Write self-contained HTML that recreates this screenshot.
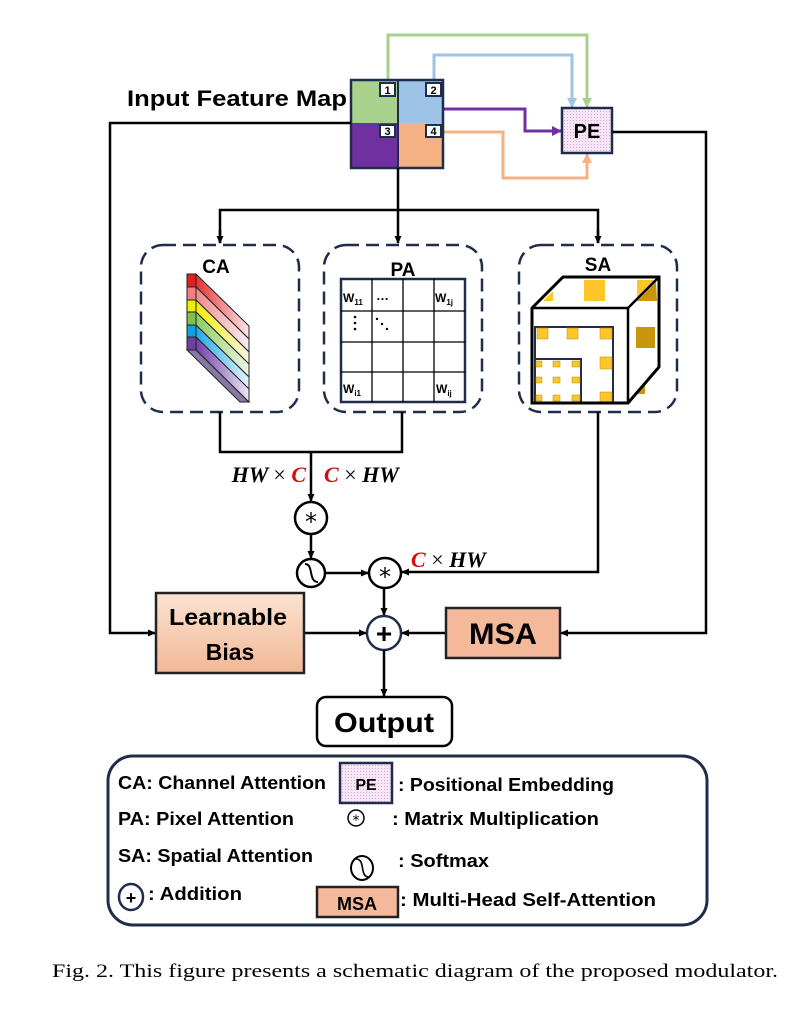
<!DOCTYPE html>
<html><head><meta charset="utf-8"><style>
html,body{margin:0;padding:0;background:#fff;}
svg{display:block;}
.b{font-family:"Liberation Sans",sans-serif;font-weight:bold;}
.m{font-family:"Liberation Serif",serif;font-style:italic;font-weight:bold;}
</style></head><body>
<svg width="793" height="1021" viewBox="0 0 793 1021" xmlns="http://www.w3.org/2000/svg">
<defs>
<marker id="ak" markerWidth="8" markerHeight="8" refX="7" refY="4" orient="auto" markerUnits="userSpaceOnUse"><path d="M0,0.5 L8,4 L0,7.5 Z" fill="#000"/></marker>
<marker id="ag" markerWidth="10" markerHeight="10" refX="9" refY="5" orient="auto" markerUnits="userSpaceOnUse"><path d="M0,0 L10,5 L0,10 Z" fill="#a9d18e"/></marker>
<marker id="ab" markerWidth="10" markerHeight="10" refX="9" refY="5" orient="auto" markerUnits="userSpaceOnUse"><path d="M0,0 L10,5 L0,10 Z" fill="#9dc3e6"/></marker>
<marker id="ap" markerWidth="10" markerHeight="10" refX="9" refY="5" orient="auto" markerUnits="userSpaceOnUse"><path d="M0,0 L10,5 L0,10 Z" fill="#7030a0"/></marker>
<marker id="ao" markerWidth="10" markerHeight="10" refX="9" refY="5" orient="auto" markerUnits="userSpaceOnUse"><path d="M0,0 L10,5 L0,10 Z" fill="#f4b183"/></marker>
<pattern id="dots" width="3" height="3" patternUnits="userSpaceOnUse"><rect width="3" height="3" fill="#f6e6f6"/><rect width="1" height="1" fill="#d9a6d9"/></pattern>
<linearGradient id="peach" x1="0" y1="0" x2="0" y2="1"><stop offset="0" stop-color="#fbe3d3"/><stop offset="1" stop-color="#f2b896"/></linearGradient>
<linearGradient id="fr" x1="0" y1="0" x2="1" y2="0"><stop offset="0" stop-color="#e83030"/><stop offset="1" stop-color="#fbe8ee"/></linearGradient>
<linearGradient id="fp" x1="0" y1="0" x2="1" y2="0"><stop offset="0" stop-color="#f08a8a"/><stop offset="1" stop-color="#fbeef2"/></linearGradient>
<linearGradient id="fy" x1="0" y1="0" x2="1" y2="0"><stop offset="0" stop-color="#f0f000"/><stop offset="1" stop-color="#f8f6e8"/></linearGradient>
<linearGradient id="fg" x1="0" y1="0" x2="1" y2="0"><stop offset="0" stop-color="#8ccc5a"/><stop offset="1" stop-color="#eef6ea"/></linearGradient>
<linearGradient id="fc" x1="0" y1="0" x2="1" y2="0"><stop offset="0" stop-color="#20a8e8"/><stop offset="1" stop-color="#e8f2fb"/></linearGradient>
<linearGradient id="fv" x1="0" y1="0" x2="1" y2="0"><stop offset="0" stop-color="#7040a8"/><stop offset="1" stop-color="#ece6f4"/></linearGradient>
</defs>

<!-- colored connectors -->
<polyline points="388,84 388,35 587,35 587,107" fill="none" stroke="#a9d18e" stroke-width="3" marker-end="url(#ag)"/>
<polyline points="434,84 434,55 572,55 572,107" fill="none" stroke="#9dc3e6" stroke-width="3" marker-end="url(#ab)"/>
<polyline points="388,126 388,109 525,109 525,131 561,131" fill="none" stroke="#7030a0" stroke-width="3" marker-end="url(#ap)"/>
<polyline points="443,132 503,132 503,178 587,178 587,154" fill="none" stroke="#f4b183" stroke-width="3" marker-end="url(#ao)"/>

<!-- feature map -->
<rect x="351" y="80" width="47" height="43" fill="#a9d18e"/>
<rect x="398" y="80" width="45" height="43" fill="#9dc3e6"/>
<rect x="351" y="123" width="47" height="45" fill="#7030a0"/>
<rect x="398" y="123" width="45" height="45" fill="#f4b183"/>
<rect x="351" y="80" width="92" height="88" fill="none" stroke="#1f2d4a" stroke-width="2.5"/>
<line x1="398" y1="80" x2="398" y2="168" stroke="#1f2d4a" stroke-width="2"/>
<rect x="380" y="83" width="15" height="13" fill="#fff" stroke="#1f2d4a" stroke-width="2"/>
<rect x="426" y="83" width="15" height="13" fill="#fff" stroke="#1f2d4a" stroke-width="2"/>
<rect x="380" y="125" width="15" height="12" fill="#fff" stroke="#1f2d4a" stroke-width="2"/>
<rect x="426" y="125" width="15" height="12" fill="#fff" stroke="#1f2d4a" stroke-width="2"/>
<text x="387.5" y="94" class="b" font-size="11" text-anchor="middle">1</text>
<text x="433.5" y="94" class="b" font-size="11" text-anchor="middle">2</text>
<text x="387.5" y="135" class="b" font-size="11" text-anchor="middle">3</text>
<text x="433.5" y="135" class="b" font-size="11" text-anchor="middle">4</text>
<text x="127" y="106" class="b" font-size="22" textLength="220" lengthAdjust="spacingAndGlyphs">Input Feature Map</text>

<!-- PE -->
<rect x="562" y="108" width="50" height="45" fill="url(#dots)" stroke="#1f2d4a" stroke-width="2.5"/>
<text x="587" y="138" class="b" font-size="20" text-anchor="middle">PE</text>

<!-- black connectors -->
<polyline points="351,123 110,123 110,633 155,633" fill="none" stroke="#000" stroke-width="2.5" marker-end="url(#ak)"/>
<polyline points="612,132 706,132 706,633 561,633" fill="none" stroke="#000" stroke-width="2.5" marker-end="url(#ak)"/>
<line x1="398" y1="168" x2="398" y2="243" stroke="#000" stroke-width="2.5" marker-end="url(#ak)"/>
<polyline points="220,243 220,210 598,210 598,243" fill="none" stroke="#000" stroke-width="2.5"/>
<line x1="220" y1="230" x2="220" y2="243" stroke="#000" stroke-width="2.5" marker-end="url(#ak)"/>
<line x1="598" y1="230" x2="598" y2="243" stroke="#000" stroke-width="2.5" marker-end="url(#ak)"/>

<!-- dashed boxes -->
<rect x="141" y="245" width="158" height="167" rx="22" fill="none" stroke="#1f2d4a" stroke-width="2.5" stroke-dasharray="13,7"/>
<rect x="324" y="245" width="158" height="167" rx="22" fill="none" stroke="#1f2d4a" stroke-width="2.5" stroke-dasharray="13,7"/>
<rect x="519" y="245" width="158" height="167" rx="22" fill="none" stroke="#1f2d4a" stroke-width="2.5" stroke-dasharray="13,7"/>
<text x="216" y="273" class="b" font-size="19" text-anchor="middle">CA</text>
<text x="403" y="276" class="b" font-size="19" text-anchor="middle">PA</text>
<text x="598" y="271" class="b" font-size="19" text-anchor="middle">SA</text>

<!-- CA prism -->
<g stroke="#222" stroke-width="1">
<polygon points="187,350 196,350 249,402 240,402" fill="#8878a8"/>
<polygon points="196,274 249,326 249,339 196,287" fill="url(#fr)"/>
<polygon points="196,287 249,339 249,352 196,300" fill="url(#fp)"/>
<polygon points="196,300 249,352 249,364 196,312" fill="url(#fy)"/>
<polygon points="196,312 249,364 249,377 196,325" fill="url(#fg)"/>
<polygon points="196,325 249,377 249,389 196,337" fill="url(#fc)"/>
<polygon points="196,337 249,389 249,402 196,350" fill="url(#fv)"/>
<rect x="187" y="274" width="9" height="13" fill="#e02020"/>
<rect x="187" y="287" width="9" height="13" fill="#f08080"/>
<rect x="187" y="300" width="9" height="12" fill="#f0f000"/>
<rect x="187" y="312" width="9" height="13" fill="#80c050"/>
<rect x="187" y="325" width="9" height="12" fill="#10a0e0"/>
<rect x="187" y="337" width="9" height="13" fill="#7040a0"/>
</g>

<!-- PA grid -->
<g fill="none">
<rect x="341" y="279" width="124" height="123" stroke="#1f2d4a" stroke-width="2.5"/>
<line x1="372" y1="279" x2="372" y2="402" stroke="#000" stroke-width="1.3"/>
<line x1="403" y1="279" x2="403" y2="402" stroke="#000" stroke-width="1.3"/>
<line x1="434" y1="279" x2="434" y2="402" stroke="#000" stroke-width="1.3"/>
<line x1="341" y1="311" x2="465" y2="311" stroke="#000" stroke-width="1.3"/>
<line x1="341" y1="342" x2="465" y2="342" stroke="#000" stroke-width="1.3"/>
<line x1="341" y1="372" x2="465" y2="372" stroke="#000" stroke-width="1.3"/>
</g>
<text x="343" y="302" class="b" font-size="12">W<tspan font-size="8" dy="3">11</tspan></text>
<text x="376" y="300" class="b" font-size="13">…</text>
<text x="435" y="302" class="b" font-size="12">W<tspan font-size="8" dy="3">1j</tspan></text>
<text x="343" y="393" class="b" font-size="12">W<tspan font-size="8" dy="3">i1</tspan></text>
<text x="436" y="393" class="b" font-size="12">W<tspan font-size="8" dy="3">ij</tspan></text>
<g fill="#000"><circle cx="355" cy="317" r="1.3"/><circle cx="355" cy="323" r="1.3"/><circle cx="355" cy="329" r="1.3"/>
<circle cx="377" cy="319" r="1.2"/><circle cx="382" cy="324" r="1.2"/><circle cx="387" cy="329" r="1.2"/></g>

<!-- SA cube -->
<g>
<polygon points="532,308 563,277 659,277 628,308" fill="#fff"/>
<polygon points="628,308 659,277 659,367 628,403" fill="#fff"/>
<rect x="584" y="280" width="21" height="21" fill="#ffc62a"/>
<polygon points="543,301 553,291 553,301" fill="#ffc62a"/>
<polygon points="637,301 656,282 657,301" fill="#c8960a"/>
<polygon points="637,299 637,280 656,280" fill="#ffc62a"/>
<rect x="636" y="327" width="19" height="21" fill="#c8960a"/>
<polygon points="636,394 645,384 645,394" fill="#c8960a"/>
<rect x="532" y="308" width="96" height="95" fill="#fff"/>
<rect x="535" y="327" width="78" height="76" fill="none" stroke="#1f2d4a" stroke-width="2"/>
<rect x="535" y="359" width="46" height="44" fill="none" stroke="#1f2d4a" stroke-width="2"/>
<g fill="#ffc62a" stroke="#b08810" stroke-width="0.5">
<rect x="537" y="328" width="11" height="11"/><rect x="567" y="328" width="11" height="11"/><rect x="600" y="328" width="12" height="11"/>
<rect x="600" y="357" width="12" height="12"/><rect x="600" y="392" width="12" height="11"/>
<rect x="536" y="361" width="6" height="6"/><rect x="553" y="361" width="7" height="6"/><rect x="572" y="361" width="8" height="6"/>
<rect x="536" y="377" width="6" height="6"/><rect x="553" y="377" width="7" height="6"/><rect x="572" y="377" width="8" height="6"/>
<rect x="536" y="395" width="6" height="6"/><rect x="553" y="395" width="7" height="6"/><rect x="572" y="395" width="8" height="6"/>
</g>
<polygon points="532,308 563,277 659,277 659,367 628,403 532,403" fill="none" stroke="#000" stroke-width="3"/>
<polyline points="532,308 628,308 659,277" fill="none" stroke="#000" stroke-width="2.5"/>
<line x1="628" y1="308" x2="628" y2="403" stroke="#000" stroke-width="2.5"/>
</g>

<!-- bottom connectors -->
<polyline points="220,412 220,452 402,452 402,412" fill="none" stroke="#000" stroke-width="2.5"/>
<line x1="311" y1="452" x2="311" y2="501" stroke="#000" stroke-width="2.5" marker-end="url(#ak)"/>
<text x="306" y="482" class="m" font-size="22" text-anchor="end">HW <tspan font-style="normal" font-weight="normal">×</tspan> <tspan fill="#d01010">C</tspan></text>
<text x="324" y="482" class="m" font-size="22"><tspan fill="#d01010">C</tspan> <tspan font-style="normal" font-weight="normal">×</tspan> HW</text>
<ellipse cx="311" cy="518" rx="16" ry="16" fill="#fff" stroke="#000" stroke-width="2.5"/>
<text x="311" y="530" font-family="DejaVu Sans,sans-serif" font-size="24" text-anchor="middle">*</text>
<line x1="311" y1="534" x2="311" y2="558" stroke="#000" stroke-width="2.5" marker-end="url(#ak)"/>
<ellipse cx="311" cy="573" rx="14" ry="14" fill="#fff" stroke="#000" stroke-width="2.5"/>
<path d="M305,564 C314,564 308,582 318,582" fill="none" stroke="#000" stroke-width="2"/>
<line x1="325" y1="573" x2="368" y2="573" stroke="#000" stroke-width="2.5" marker-end="url(#ak)"/>
<polyline points="598,412 598,572 402,572" fill="none" stroke="#000" stroke-width="2.5" marker-end="url(#ak)"/>
<text x="411" y="567" class="m" font-size="22"><tspan fill="#d01010">C</tspan> <tspan font-style="normal" font-weight="normal">×</tspan> HW</text>
<ellipse cx="385" cy="573" rx="16" ry="15" fill="#fff" stroke="#000" stroke-width="2.5"/>
<text x="385" y="585" font-family="DejaVu Sans,sans-serif" font-size="24" text-anchor="middle">*</text>
<line x1="384" y1="588" x2="384" y2="615" stroke="#000" stroke-width="2.5" marker-end="url(#ak)"/>
<line x1="304" y1="633" x2="366" y2="633" stroke="#000" stroke-width="2.5" marker-end="url(#ak)"/>
<line x1="446" y1="633" x2="402" y2="633" stroke="#000" stroke-width="2.5" marker-end="url(#ak)"/>
<ellipse cx="384" cy="633" rx="17" ry="17" fill="#fff" stroke="#1f2d4a" stroke-width="2.5"/>
<text x="384" y="643" class="b" font-size="28" text-anchor="middle">+</text>
<line x1="384" y1="650" x2="384" y2="696" stroke="#000" stroke-width="2.5" marker-end="url(#ak)"/>

<rect x="156" y="593" width="148" height="80" fill="url(#peach)" stroke="#222" stroke-width="2.5"/>
<text x="228" y="625" class="b" font-size="23" text-anchor="middle" textLength="118" lengthAdjust="spacingAndGlyphs">Learnable</text>
<text x="230" y="660" class="b" font-size="23" text-anchor="middle">Bias</text>
<rect x="446" y="608" width="114" height="50" fill="#f4b99a" stroke="#222" stroke-width="2.5"/>
<text x="503" y="644" class="b" font-size="30" text-anchor="middle" textLength="68" lengthAdjust="spacingAndGlyphs">MSA</text>
<rect x="317" y="697" width="135" height="49" rx="9" fill="#fff" stroke="#000" stroke-width="2.5"/>
<text x="384" y="732" class="b" font-size="28" text-anchor="middle" textLength="100" lengthAdjust="spacingAndGlyphs">Output</text>

<!-- legend -->
<rect x="108" y="756" width="599" height="169" rx="25" fill="none" stroke="#1f2d4a" stroke-width="3"/>
<g class="b" font-size="18">
<text x="118" y="789" textLength="208" lengthAdjust="spacingAndGlyphs">CA: Channel Attention</text>
<text x="118" y="825" textLength="176" lengthAdjust="spacingAndGlyphs">PA: Pixel Attention</text>
<text x="118" y="862" textLength="195" lengthAdjust="spacingAndGlyphs">SA: Spatial Attention</text>
<text x="148" y="900" textLength="94" lengthAdjust="spacingAndGlyphs">: Addition</text>
<text x="398" y="791" textLength="216" lengthAdjust="spacingAndGlyphs">: Positional Embedding</text>
<text x="392" y="825" textLength="207" lengthAdjust="spacingAndGlyphs">: Matrix Multiplication</text>
<text x="398" y="867" textLength="91" lengthAdjust="spacingAndGlyphs">: Softmax</text>
<text x="400" y="906" textLength="256" lengthAdjust="spacingAndGlyphs">: Multi-Head Self-Attention</text>
</g>
<rect x="340" y="763" width="52" height="40" fill="url(#dots)" stroke="#1f2d4a" stroke-width="2.5"/>
<text x="366" y="790" class="b" font-size="16" text-anchor="middle">PE</text>
<circle cx="356" cy="818" r="8" fill="#fff" stroke="#000" stroke-width="1.5"/>
<text x="356" y="825" font-family="DejaVu Sans,sans-serif" font-size="14" text-anchor="middle">*</text>
<ellipse cx="362" cy="868" rx="11" ry="12" fill="#fff" stroke="#000" stroke-width="2"/>
<path d="M356,859 C366,859 359,877 369,877" fill="none" stroke="#000" stroke-width="1.6"/>
<ellipse cx="131" cy="897" rx="12" ry="13" fill="#fff" stroke="#1f2d4a" stroke-width="2.5"/>
<text x="131" y="904" class="b" font-size="18" text-anchor="middle">+</text>
<rect x="317" y="887" width="81" height="30" fill="#f4b99a" stroke="#222" stroke-width="2.5"/>
<text x="357" y="910" class="b" font-size="18" text-anchor="middle">MSA</text>

<text x="52" y="977" font-family="Liberation Serif,serif" font-size="18.5" textLength="726" lengthAdjust="spacingAndGlyphs">Fig. 2.  This figure presents a schematic diagram of the proposed modulator.</text>
</svg>
</body></html>
